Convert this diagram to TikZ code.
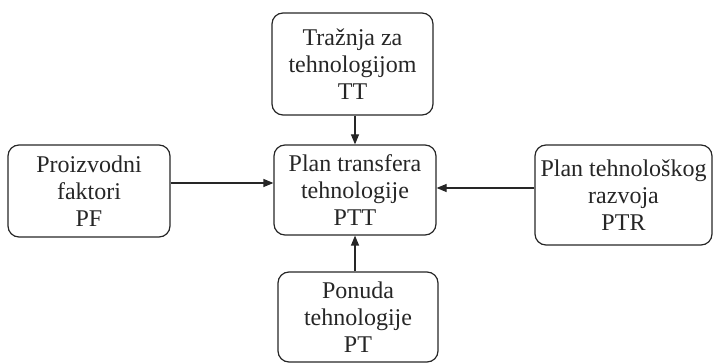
\documentclass[tikz,border=0pt]{standalone}
\usepackage{fontspec}
\setmainfont{Liberation Serif}
\usetikzlibrary{arrows.meta}
\begin{document}
\begin{tikzpicture}[x=1pt,y=1pt,
  box/.style={draw=black!85, line width=1.2pt, rounded corners=11pt,
    inner sep=0pt, align=center, text=black!85,
    font=\fontsize{24}{27}\selectfont},
  link/.style={line width=1.2pt, draw=black!85,
    -{Triangle[length=10pt,width=8pt]}}]
\useasboundingbox (0,0) rectangle (715,364);

\node[box, minimum width=161pt, minimum height=102pt] (tt) at (352.5,300)
  {Tražnja za\\tehnologijom\\TT};
\node[box, minimum width=162pt, minimum height=90pt] (ptt) at (355,174)
  {Plan transfera\\tehnologije\\PTT};
\node[box, minimum width=162pt, minimum height=92pt] (pf) at (89,173)
  {Proizvodni\\faktori\\PF};
\node[box, minimum width=177pt, minimum height=100pt] (ptr) at (623.5,169)
  {Plan tehnološkog\\razvoja\\PTR};
\node[box, minimum width=160pt, minimum height=90pt] (pt) at (358,47)
  {Ponuda\\tehnologije\\PT};

\draw[link] (tt.south -| ptt.north) -- (ptt.north);
\draw[link] ([yshift=8pt]pf.east) -- ([yshift=8pt]pf.east -| ptt.west);
\draw[link] ([yshift=7pt]ptr.west) -- ([yshift=7pt]ptr.west -| ptt.east);
\draw[link] (pt.north -| ptt.south) -- (ptt.south);
\end{tikzpicture}
\end{document}
